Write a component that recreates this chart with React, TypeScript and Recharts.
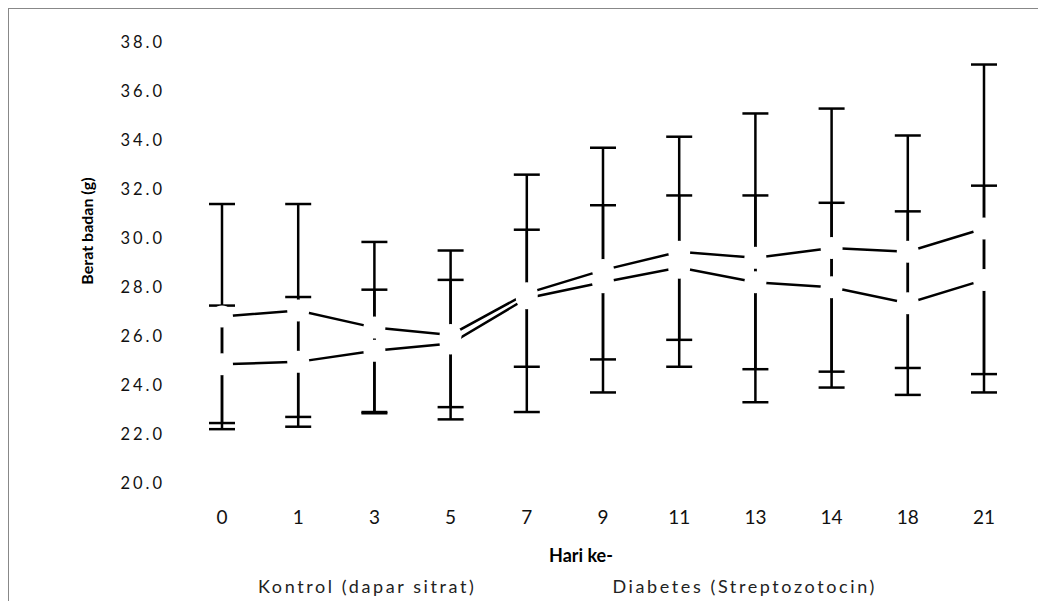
import { LineChart, Line, XAxis, YAxis, ErrorBar, Legend } from 'recharts'

const days = ['0', '1', '3', '5', '7', '9', '11', '13', '14', '18', '21']
const kontrolMean = [26.8, 27.05, 26.35, 26.05, 27.75, 28.7, 29.45, 29.2, 29.6, 29.45, 30.4]
const kontrolSD = [4.6, 4.35, 3.5, 3.45, 4.85, 5.0, 4.7, 5.9, 5.7, 4.75, 6.7]
const diabetesMean = [24.85, 24.95, 25.4, 25.7, 27.55, 28.2, 28.8, 28.2, 28.0, 27.35, 28.3]
const diabetesSD = [2.4, 2.65, 2.5, 2.6, 2.8, 3.15, 2.95, 3.55, 3.45, 3.75, 3.85]
const yTicks = [20, 22, 24, 26, 28, 30, 32, 34, 36, 38]
const seriesNames = ['Kontrol (dapar sitrat)', 'Diabetes (Streptozotocin)']

const font = 'Lato, "Open Sans", sans-serif'

const data = days.map((day, i) => ({
  day,
  kontrol: kontrolMean[i],
  kontrolSD: kontrolSD[i],
  diabetes: diabetesMean[i],
  diabetesSD: diabetesSD[i],
}))

const YTitle = () => (
  <text
    x={77}
    y={222}
    transform="rotate(-90 77 222)"
    textAnchor="middle"
    dominantBaseline="central"
    fontSize={16}
    fontWeight={700}
    fontFamily={font}
    fill="#000"
  >
    Berat badan (g)
  </text>
)

const XTitle = () => (
  <text
    x={572}
    y={546}
    textAnchor="middle"
    dominantBaseline="central"
    fontSize={18}
    fontWeight={700}
    fontFamily={font}
    fill="#000"
  >
    Hari ke-
  </text>
)

const LegendContent = (props: any) => {
  const items = (props.payload || [])
    .filter((p: any) => p.type !== 'none')
    .sort((a: any, b: any) => seriesNames.indexOf(a.value) - seriesNames.indexOf(b.value))
  return (
    <div style={{ display: 'flex', paddingLeft: 249, fontFamily: font, fontSize: 18, letterSpacing: 2.6, color: '#222', lineHeight: '24px' }}>
      {items.map((p: any) => (
        <span key={p.value} style={{ marginRight: 136, whiteSpace: 'nowrap' }}>{p.value}</span>
      ))}
    </div>
  )
}

export default function App() {
  return (
    <div style={{ position: 'relative', width: 1030, height: 592, borderTop: '1px solid #888', borderLeft: '1px solid #888', background: '#fff' }}>
      <LineChart width={1030} height={592} data={data} margin={{ top: 33.5, right: 17, left: 0, bottom: 24 }}>
        <XAxis
          dataKey="day"
          axisLine={false}
          tickLine={false}
          interval={0}
          height={70}
          padding={{ left: 38, right: 38 }}
          tickMargin={22}
          tick={{ fontSize: 19, fill: '#111', fontFamily: font }}
          label={<XTitle />}
        />
        <YAxis
          domain={[20, 38]}
          ticks={yTicks}
          tickFormatter={(v: number) => v.toFixed(1)}
          axisLine={false}
          tickLine={false}
          width={175}
          tickMargin={13}
          tick={{ fontSize: 16.5, fill: '#111', fontFamily: font, letterSpacing: 3 }}
          label={<YTitle />}
        />
        <Legend
          content={<LegendContent />}
          wrapperStyle={{ top: 565, left: 0, width: 1030, height: 24 }}
        />
        <Line
          dataKey="kontrol"
          name={seriesNames[0]}
          type="linear"
          stroke="#000"
          strokeWidth={2.5}
          dot={false}
          activeDot={false}
          isAnimationActive={false}
        >
          <ErrorBar dataKey="kontrolSD" direction="y" width={13} strokeWidth={2.5} stroke="#000" isAnimationActive={false} />
        </Line>
        <Line
          dataKey="diabetes"
          name={seriesNames[1]}
          type="linear"
          stroke="#000"
          strokeWidth={2.5}
          dot={false}
          activeDot={false}
          isAnimationActive={false}
        >
          <ErrorBar dataKey="diabetesSD" direction="y" width={13} strokeWidth={2.5} stroke="#000" isAnimationActive={false} />
        </Line>
        <Line
          dataKey="kontrol"
          legendType="none"
          stroke="none"
          dot={{ r: 11, fill: '#fff', stroke: 'none' }}
          activeDot={false}
          isAnimationActive={false}
        />
        <Line
          dataKey="diabetes"
          legendType="none"
          stroke="none"
          dot={{ r: 11, fill: '#fff', stroke: 'none' }}
          activeDot={false}
          isAnimationActive={false}
        />
      </LineChart>
    </div>
  )
}
